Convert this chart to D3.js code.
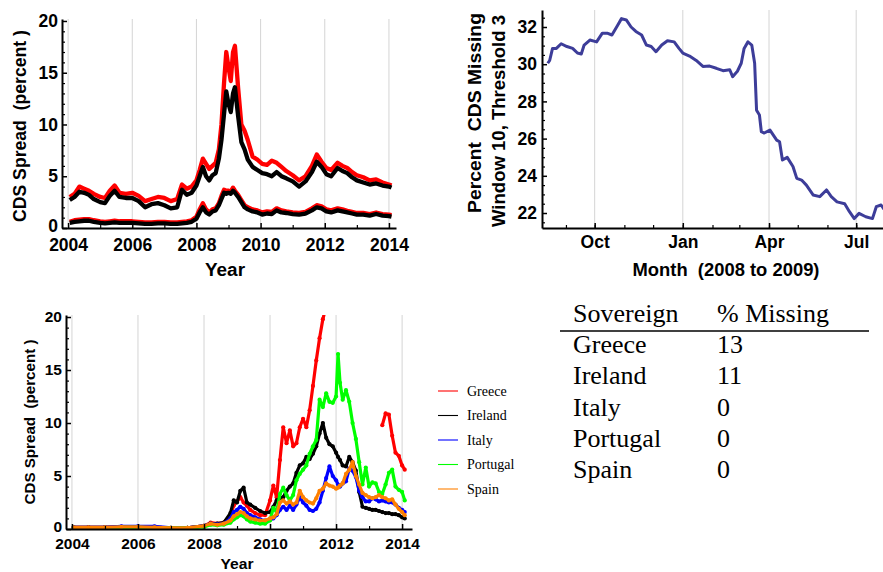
<!DOCTYPE html>
<html><head><meta charset="utf-8">
<script src="https://cdn.jsdelivr.net/npm/d3@7"></script>
<style>
body{margin:0;background:#fff;}
svg{display:block;}
</style></head><body>
<svg id="chart" width="883" height="572"></svg>
<script>
// ---------- Top-left panel: CDS spread (two bands, red / black) ----------
const tlYears = [2004.05,2004.2,2004.35,2004.5,2004.65,2004.8,2005.0,2005.15,2005.3,2005.45,
 2005.6,2005.8,2006.0,2006.2,2006.4,2006.6,2006.8,2007.0,2007.2,2007.4,
 2007.55,2007.7,2007.85,2008.0,2008.1,2008.2,2008.3,2008.4,2008.5,2008.6,
 2008.7,2008.78,2008.86,2008.93,2009.0,2009.07,2009.14,2009.2,2009.3,2009.4,
 2009.5,2009.6,2009.75,2009.9,2010.05,2010.2,2010.35,2010.5,2010.65,2010.8,
 2011.0,2011.2,2011.4,2011.6,2011.75,2011.9,2012.05,2012.2,2012.4,2012.55,
 2012.7,2012.85,2013.0,2013.2,2013.4,2013.6,2013.8,2014.0,2014.08];
const tlRedUpper = [3.0,3.3,4.0,3.8,3.6,3.3,3.0,2.9,3.6,4.1,
 3.4,3.3,3.4,3.1,2.6,2.8,3.0,2.9,2.6,2.8,
 4.2,3.8,4.0,4.6,5.6,6.7,6.2,5.7,6.0,6.3,
 7.6,10.0,14.0,17.0,15.5,14.2,17.0,17.6,13.5,10.0,
 9.4,8.5,6.9,6.6,6.2,6.1,6.5,6.3,5.9,5.5,
 5.1,4.6,5.0,6.0,7.1,6.4,5.8,5.6,6.3,6.0,
 5.8,5.4,5.1,4.9,4.6,4.7,4.4,4.2,4.1];
const tlBlackUpper = [2.7,3.0,3.5,3.4,3.2,2.8,2.5,2.4,3.1,3.6,
 3.0,2.9,2.9,2.6,2.0,2.3,2.4,2.2,1.9,2.0,
 3.7,3.2,3.4,4.1,5.0,5.9,5.0,4.6,5.1,5.3,
 6.7,8.5,11.0,13.2,12.0,11.2,13.0,13.6,10.8,8.3,
 7.6,6.6,5.9,5.6,5.3,5.2,5.0,5.4,5.0,4.8,
 4.5,4.0,4.5,5.4,6.4,5.9,5.2,5.0,5.8,5.5,
 5.3,4.9,4.6,4.4,4.2,4.3,4.1,4.0,3.9];
const tlRedLower = [0.6,0.75,0.8,0.85,0.85,0.75,0.65,0.6,0.65,0.7,
 0.65,0.65,0.65,0.6,0.55,0.55,0.6,0.6,0.55,0.55,
 0.6,0.65,0.75,1.1,1.8,2.4,1.8,1.5,1.8,1.9,
 2.4,3.1,3.7,3.6,3.6,3.5,3.9,3.6,3.2,2.7,
 2.2,2.0,1.8,1.7,1.5,1.6,1.55,1.9,1.7,1.6,
 1.5,1.45,1.55,1.9,2.2,2.1,1.8,1.7,1.9,1.8,
 1.65,1.55,1.45,1.45,1.35,1.5,1.35,1.3,1.25];
const tlBlackLower = [0.5,0.6,0.65,0.7,0.7,0.6,0.5,0.45,0.5,0.55,
 0.5,0.5,0.5,0.45,0.4,0.4,0.45,0.45,0.4,0.4,
 0.45,0.5,0.6,0.9,1.5,2.0,1.5,1.3,1.6,1.7,
 2.2,2.8,3.4,3.3,3.4,3.3,3.6,3.4,3.0,2.5,
 2.0,1.8,1.6,1.5,1.3,1.4,1.35,1.7,1.5,1.45,
 1.35,1.3,1.4,1.7,2.0,1.9,1.6,1.5,1.7,1.6,
 1.5,1.4,1.3,1.3,1.2,1.35,1.2,1.15,1.1];
const yearTicks = [2004,2006,2008,2010,2012,2014];
const yearMinorTicks = [2005,2007,2009,2011,2013];
const spreadTicks = [0,5,10,15,20];
const spreadMinorTicks = [1,2,3,4,6,7,8,9,11,12,13,14,16,17,18,19];

// ---------- Top-right panel: percent CDS missing ----------
const trDates = ["2008-08-13","2008-08-15","2008-08-18","2008-08-22","2008-08-27","2008-09-02","2008-09-08","2008-09-13","2008-09-17","2008-09-20",
 "2008-09-26","2008-10-03","2008-10-09","2008-10-14","2008-10-19","2008-10-25","2008-10-29","2008-11-03","2008-11-08","2008-11-13",
 "2008-11-19","2008-11-24","2008-11-29","2008-12-04","2008-12-10","2008-12-16","2008-12-23","2008-12-28","2009-01-01","2009-01-08",
 "2009-01-15","2009-01-22","2009-01-29","2009-02-05","2009-02-12","2009-02-19","2009-02-22","2009-02-27","2009-03-03","2009-03-06",
 "2009-03-10","2009-03-14","2009-03-17","2009-03-19","2009-03-22","2009-03-24","2009-03-27","2009-04-02","2009-04-09","2009-04-12",
 "2009-04-15","2009-04-20","2009-04-26","2009-04-30","2009-05-05","2009-05-10","2009-05-17","2009-05-24","2009-05-31","2009-06-05",
 "2009-06-11","2009-06-19","2009-06-24","2009-06-29","2009-07-04","2009-07-11","2009-07-18","2009-07-22","2009-07-27","2009-07-30"];
const trValues = [30.05,30.2,30.85,30.85,31.1,30.95,30.85,30.6,30.55,31.03,
 31.3,31.2,31.67,31.67,31.57,32.1,32.45,32.38,32.0,31.76,
 31.57,31.03,30.95,30.67,31.03,31.26,31.2,30.85,30.6,30.44,
 30.2,29.88,29.9,29.78,29.65,29.7,29.33,29.62,30.05,30.85,
 31.2,31.03,30.05,27.53,27.27,26.37,26.3,26.46,25.92,25.83,
 24.85,24.99,24.5,23.86,23.77,23.5,22.97,22.88,23.24,22.88,
 22.6,22.5,22.07,21.7,21.98,21.8,21.7,22.34,22.43,22.2];
const trMonthTicks = ["2008-10-01","2009-01-01","2009-04-01","2009-07-01"];
const trYTicks = [22,24,26,28,30,32];

// ---------- Bottom-left panel: sovereign CDS spreads ----------
const sovereigns = ["Greece","Ireland","Italy","Portugal","Spain"];
const blYears = [2004.05,2004.5,2005.0,2005.5,2006.0,2006.5,2007.0,2007.5,2008.0,
 2008.2,2008.4,2008.6,2008.8,2008.9,2009.0,2009.1,2009.2,2009.3,2009.4,
 2009.55,2009.7,2009.85,
 2010.0,2010.1,2010.2,2010.3,2010.4,2010.5,2010.6,2010.7,2010.8,2010.9,
 2011.0,2011.1,2011.2,2011.3,2011.4,2011.5,2011.6,2011.7,2011.8,2011.9,
 2012.0,2012.06,2012.12,
 2012.2,2012.3,2012.4,2012.5,2012.6,2012.7,2012.8,2012.9,
 2013.0,2013.1,2013.2,2013.3,2013.4,2013.5,2013.6,2013.7,2013.8,2013.9,
 2014.0,2014.08];
const blGreece = [0.15,0.15,0.15,0.2,0.2,0.15,0.1,0.1,0.3,
 0.6,0.5,0.6,1.3,2.2,2.6,3.0,2.5,2.2,1.8,
 1.5,1.3,1.3,
 2.7,4.1,3.0,6.5,9.6,8.1,9.3,7.8,8.1,9.6,
 10.4,9.6,11.2,13.5,15.9,18.0,19.8,21.0,null,null,
 null,null,null,
 null,null,null,null,null,null,null,null,
 null,null,null,null,9.8,10.9,10.8,8.8,7.2,6.9,
 6.0,5.6];
const blIreland = [0.15,0.15,0.15,0.2,0.2,0.15,0.1,0.1,0.3,
 0.5,0.5,0.6,1.5,2.7,2.5,3.6,3.9,2.5,2.3,
 2.0,1.7,1.5,
 1.6,2.1,2.7,2.9,3.0,3.6,4.0,4.3,5.3,6.0,
 6.2,6.8,6.6,7.1,7.8,9.0,10.0,8.6,8.0,7.8,
 7.2,6.8,6.5,
 6.0,5.9,6.8,6.3,5.5,3.5,2.1,2.0,
 1.9,1.8,1.8,1.7,1.6,1.5,1.5,1.4,1.4,1.3,
 1.1,1.0];
const blItaly = [0.15,0.15,0.15,0.25,0.25,0.25,0.1,0.1,0.3,
 0.5,0.45,0.5,1.0,1.6,1.8,2.1,1.9,1.5,1.3,
 1.1,0.9,0.8,
 0.9,1.0,1.3,1.8,2.1,1.8,2.2,1.8,2.3,3.0,
 2.5,2.2,1.8,1.7,1.9,2.5,3.6,4.8,5.9,5.0,
 4.6,4.2,4.0,
 4.3,4.5,5.7,5.5,4.9,3.6,3.0,2.6,
 2.6,2.9,2.8,2.6,2.7,2.6,2.5,2.5,2.3,2.0,
 1.8,1.6];
const blPortugal = [0.1,0.1,0.1,0.15,0.15,0.1,0.1,0.1,0.2,
 0.4,0.35,0.4,0.6,0.9,1.1,1.3,1.2,0.9,0.7,
 0.6,0.5,0.5,
 0.8,2.0,1.6,3.3,3.9,3.2,2.7,3.2,4.6,5.2,
 5.6,6.0,7.1,7.8,8.4,12.2,11.5,12.8,12.0,11.9,
 12.5,16.5,13.8,
 12.2,13.1,12.0,10.0,8.5,6.3,4.2,5.8,
 4.0,4.4,4.3,3.5,3.3,4.2,5.3,5.6,4.0,3.7,
 3.5,2.7];
const blSpain = [0.15,0.15,0.15,0.2,0.2,0.15,0.1,0.1,0.3,
 0.5,0.4,0.5,0.8,1.2,1.4,1.6,1.5,1.2,1.0,
 0.9,0.8,0.8,
 1.0,1.1,1.4,2.5,2.7,2.4,2.6,2.3,2.5,3.6,
 3.0,2.7,2.5,2.4,2.9,3.6,3.8,4.3,4.1,4.0,
 3.8,3.9,4.1,
 4.3,5.2,5.6,6.3,5.0,4.2,3.4,3.2,
 3.0,2.9,3.0,3.2,3.0,2.9,2.7,2.8,2.3,1.9,
 1.6,1.3];

// ---------- Table ----------
const tableHeader = ["Sovereign","% Missing"];
const tableMissing = [13,11,0,0,0];

// ================= drawing =================
const svg = d3.select("#chart");
const SANS = "'Liberation Sans', Arial, Helvetica, sans-serif";
const SERIF = "'Liberation Serif', 'Times New Roman', serif";
const defs = svg.append("defs");

function clip(id, x0, y0, x1, y1){
  defs.append("clipPath").attr("id", id).append("rect")
    .attr("x", x0).attr("y", y0).attr("width", x1 - x0).attr("height", y1 - y0);
  return `url(#${id})`;
}

function styleAxis(g, fs){
  g.attr("font-family", SANS).attr("font-size", fs).attr("font-weight", "bold");
  g.select(".domain").attr("stroke", "#000").attr("stroke-width", 2);
  g.selectAll(".tick line").attr("stroke", "#000").attr("stroke-width", 1.5);
  g.selectAll(".tick text").attr("fill", "#000");
}

function gridV(g, x, vals, y0, y1){
  g.append("g").selectAll("line").data(vals).join("line")
    .attr("x1", d => x(d)).attr("x2", d => x(d))
    .attr("y1", y0).attr("y2", y1)
    .attr("stroke", "#d4d4d4").attr("stroke-width", 1);
}

function rotLabel(g, txt, x, y, fs, len){
  g.append("text").attr("transform", `translate(${x},${y}) rotate(-90)`)
    .attr("text-anchor", "middle").attr("font-family", SANS)
    .attr("font-size", fs).attr("font-weight", "bold")
    .attr("textLength", len).attr("lengthAdjust", "spacingAndGlyphs")
    .style("white-space", "pre").text(txt);
}

function hLabel(g, txt, x, y, fs, len){
  g.append("text").attr("x", x).attr("y", y)
    .attr("text-anchor", "middle").attr("font-family", SANS)
    .attr("font-size", fs).attr("font-weight", "bold")
    .attr("textLength", len).attr("lengthAdjust", "spacingAndGlyphs")
    .style("white-space", "pre").text(txt);
}

// lift the "0" label a touch so it does not collide with the first year label
function liftZero(gy, dy){
  gy.selectAll(".tick text").filter(d => d === 0).attr("dy", dy);
}

// ---------- Top-left ----------
{
  const g = svg.append("g");
  const x = d3.scaleLinear().domain([2003.81, 2014.22]).range([62, 396]);
  const y = d3.scaleLinear().domain([0, 20.19]).range([228, 19]);
  gridV(g, x, yearTicks, 19, 228);
  const cp = clip("cTL", 62, 19, 396, 228);
  const data = tlYears.map((yr, i) => ({yr, ru: tlRedUpper[i], bu: tlBlackUpper[i], rl: tlRedLower[i], bl: tlBlackLower[i]}));
  const mk = key => d3.line().x(d => x(d.yr)).y(d => y(d[key]));
  const series = [["ru", "#ff0000"], ["bu", "#000000"], ["rl", "#ff0000"], ["bl", "#000000"]];
  const dg = g.append("g").attr("clip-path", cp);
  series.forEach(([k, c]) => {
    dg.append("path").attr("d", mk(k)(data)).attr("fill", "none")
      .attr("stroke", c).attr("stroke-width", 4.3).attr("stroke-linejoin", "round");
  });
  const gx = g.append("g").attr("transform", "translate(0,228)")
    .call(d3.axisBottom(x).tickValues(yearTicks).tickFormat(d3.format("d")).tickSize(-5).tickSizeOuter(0).tickPadding(10.5));
  styleAxis(gx, 17.5);
  g.append("g").attr("transform", "translate(0,228)")
    .call(d3.axisBottom(x).tickValues(yearMinorTicks).tickFormat("").tickSize(-3).tickSizeOuter(0))
    .call(a => { a.select(".domain").remove(); a.selectAll("line").attr("stroke", "#000").attr("stroke-width", 1.2); });
  const gy = g.append("g").attr("transform", "translate(62,0)")
    .call(d3.axisLeft(y).tickValues(spreadTicks).tickSize(-5).tickSizeOuter(0).tickPadding(4));
  styleAxis(gy, 17.5);
  liftZero(gy, "0.18em");
  g.append("g").attr("transform", "translate(62,0)")
    .call(d3.axisLeft(y).tickValues(spreadMinorTicks).tickFormat("").tickSize(-3).tickSizeOuter(0))
    .call(a => { a.select(".domain").remove(); a.selectAll("line").attr("stroke", "#000").attr("stroke-width", 1.2); });
  rotLabel(g, "CDS Spread  (percent )", 26, 126, 18, 192);
  hLabel(g, "Year", 225, 276, 18, 40);
}

// ---------- Top-right ----------
{
  const g = svg.append("g");
  const parse = d3.timeParse("%Y-%m-%d");
  const x = d3.scaleTime().domain([parse("2008-08-07"), parse("2009-07-29")]).range([542, 883]);
  const y = d3.scaleLinear().domain([21.194, 32.914]).range([228, 10]);
  const majors = trMonthTicks.map(parse);
  gridV(g, x, majors, 10, 228);
  const cp = clip("cTR", 542, 10, 883, 228);
  const data = trDates.map((d, i) => ({d: parse(d), v: trValues[i]}));
  g.append("g").attr("clip-path", cp).append("path")
    .attr("d", d3.line().x(d => x(d.d)).y(d => y(d.v))(data))
    .attr("fill", "none").attr("stroke", "#3d3d99").attr("stroke-width", 3).attr("stroke-linejoin", "round");
  const gx = g.append("g").attr("transform", "translate(0,228)")
    .call(d3.axisBottom(x).tickValues(majors).tickFormat(d3.timeFormat("%b")).tickSize(-5).tickSizeOuter(0).tickPadding(8));
  styleAxis(gx, 17.5);
  const minorMonths = d3.timeMonth.range(parse("2008-09-01"), parse("2009-08-02"));
  g.append("g").attr("transform", "translate(0,228)")
    .call(d3.axisBottom(x).tickValues(minorMonths).tickFormat("").tickSize(-3).tickSizeOuter(0))
    .call(a => { a.select(".domain").remove(); a.selectAll("line").attr("stroke", "#000").attr("stroke-width", 1.2); });
  const gy = g.append("g").attr("transform", "translate(542,0)")
    .call(d3.axisLeft(y).tickValues(trYTicks).tickSize(-5).tickSizeOuter(0).tickPadding(5));
  styleAxis(gy, 17.5);
  const minorY = d3.range(21.5, 32.9, 0.5).filter(v => v % 2 !== 0);
  g.append("g").attr("transform", "translate(542,0)")
    .call(d3.axisLeft(y).tickValues(minorY).tickFormat("").tickSize(-3).tickSizeOuter(0))
    .call(a => { a.select(".domain").remove(); a.selectAll("line").attr("stroke", "#000").attr("stroke-width", 1.2); });
  rotLabel(g, "Percent  CDS Missing", 481, 113, 18, 200);
  rotLabel(g, "Window 10, Threshold 3", 505, 121, 18, 212);
  hLabel(g, "Month  (2008 to 2009)", 726, 276, 18, 187);
}

// ---------- Bottom-left ----------
{
  const g = svg.append("g");
  const x = d3.scaleLinear().domain([2003.82, 2014.3]).range([66, 412]);
  const y = d3.scaleLinear().domain([0, 20.19]).range([529, 315]);
  gridV(g, x, yearTicks, 315, 529);
  const cp = clip("cBL", 66, 315, 412, 529);
  const colors = {Greece: "#ff0000", Ireland: "#000000", Italy: "#0000ff", Portugal: "#00ff00", Spain: "#ff8000"};
  const seriesVals = {Greece: blGreece, Ireland: blIreland, Italy: blItaly, Portugal: blPortugal, Spain: blSpain};
  const dg = g.append("g").attr("clip-path", cp);
  sovereigns.forEach(name => {
    const pts = blYears.map((yr, i) => ({yr, v: seriesVals[name][i]}));
    const line = d3.line().defined(d => d.v != null).x(d => x(d.yr)).y(d => y(d.v));
    dg.append("path").attr("d", line(pts)).attr("fill", "none")
      .attr("stroke", colors[name]).attr("stroke-width", 3.2).attr("stroke-linejoin", "round");
    dg.append("g").selectAll("circle").data(pts.filter(d => d.v != null)).join("circle")
      .attr("cx", d => x(d.yr)).attr("cy", d => y(d.v)).attr("r", 2.1).attr("fill", colors[name]);
  });
  const gx = g.append("g").attr("transform", "translate(0,529)")
    .call(d3.axisBottom(x).tickValues(yearTicks).tickFormat(d3.format("d")).tickSize(-5).tickSizeOuter(0).tickPadding(9));
  styleAxis(gx, 15.5);
  g.append("g").attr("transform", "translate(0,529)")
    .call(d3.axisBottom(x).tickValues(yearMinorTicks).tickFormat("").tickSize(-3).tickSizeOuter(0))
    .call(a => { a.select(".domain").remove(); a.selectAll("line").attr("stroke", "#000").attr("stroke-width", 1.2); });
  const gy = g.append("g").attr("transform", "translate(66,0)")
    .call(d3.axisLeft(y).tickValues(spreadTicks).tickSize(-5).tickSizeOuter(0).tickPadding(4));
  styleAxis(gy, 15.5);
  liftZero(gy, "0.14em");
  g.append("g").attr("transform", "translate(66,0)")
    .call(d3.axisLeft(y).tickValues(spreadMinorTicks).tickFormat("").tickSize(-3).tickSizeOuter(0))
    .call(a => { a.select(".domain").remove(); a.selectAll("line").attr("stroke", "#000").attr("stroke-width", 1.2); });
  rotLabel(g, "CDS Spread  (percent )", 35, 422, 15.5, 165);
  hLabel(g, "Year", 237, 569, 15.5, 33);

  // legend
  const lg = g.append("g");
  const ly = d3.scalePoint().domain(sovereigns).range([391, 489]);
  sovereigns.forEach(name => {
    lg.append("line").attr("x1", 438).attr("x2", 458).attr("y1", ly(name)).attr("y2", ly(name))
      .attr("stroke", colors[name]).attr("stroke-width", 1.1);
    lg.append("text").attr("x", 467).attr("y", ly(name)).attr("dy", "0.35em")
      .attr("font-family", SERIF).attr("font-size", 14).attr("fill", "#000").text(name);
  });
}

// ---------- Table ----------
{
  const g = svg.append("g").attr("font-family", SERIF).attr("font-size", 26).attr("fill", "#000");
  g.append("text").attr("x", 573).attr("y", 322).text(tableHeader[0]);
  g.append("text").attr("x", 717).attr("y", 322).text(tableHeader[1]);
  g.append("line").attr("x1", 560).attr("x2", 869).attr("y1", 331).attr("y2", 331)
    .attr("stroke", "#000").attr("stroke-width", 1.3);
  const ry = d3.scalePoint().domain(sovereigns).range([353, 478]);
  sovereigns.forEach((name, i) => {
    g.append("text").attr("x", 573).attr("y", ry(name)).text(name);
    g.append("text").attr("x", 717).attr("y", ry(name)).text(String(tableMissing[i]));
  });
}
</script></body></html>
